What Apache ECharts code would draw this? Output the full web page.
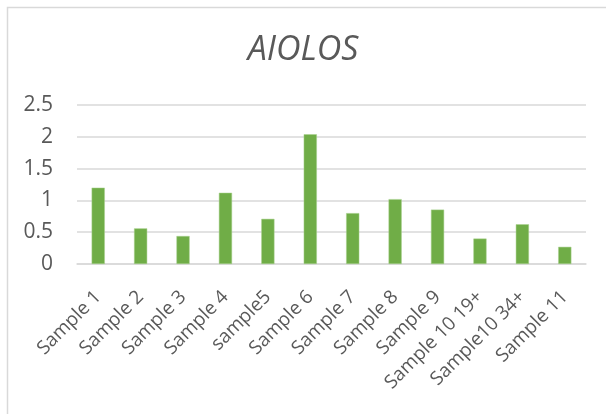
<!DOCTYPE html>
<html><head><meta charset="utf-8">
<script src="https://cdn.jsdelivr.net/npm/echarts@6/dist/echarts.min.js"></script>
<style>html,body{margin:0;padding:0;background:#fff}#c{width:606px;height:414px}</style>
</head><body><div id="c"></div>
<script>
const categories = ['Sample 1','Sample 2','Sample 3','Sample 4','sample5','Sample 6','Sample 7','Sample 8','Sample 9','Sample 10 19+','Sample10 34+','Sample 11'];
const values = [1.20, 0.56, 0.44, 1.12, 0.71, 2.04, 0.80, 1.02, 0.855, 0.40, 0.625, 0.27];
const yTicks = [0, 0.5, 1, 1.5, 2, 2.5];
const chart = echarts.init(document.getElementById('c'));
const font = '"Open Sans", "Noto Sans", sans-serif';
chart.setOption({
  animation: false,
  graphic: [{type:'rect', shape:{x:7.5,y:7.5,width:620,height:420}, style:{fill:'none', stroke:'#d9d9d9', lineWidth:1.5}}],
  title: {text:'AIOLOS', left:'center', top:28, textStyle:{fontFamily:font, fontStyle:'italic', fontWeight:'normal', fontSize:34, color:'#595959'}},
  grid: {left:77, right:20, top:105, bottom:150},
  xAxis: {type:'category', data:categories,
    axisLine:{lineStyle:{color:'#d9d9d9', width:1.5}}, axisTick:{show:false},
    axisLabel:{rotate:45, interval:0, fontFamily:font, fontSize:19, color:'#595959', margin:30, padding:[24,0,0,0]}},
  yAxis: {type:'value', min:yTicks[0], max:yTicks[yTicks.length-1], interval:0.5,
    axisLine:{show:false}, axisTick:{show:false},
    splitLine:{lineStyle:{color:'#d9d9d9', width:1.5}},
    axisLabel:{fontFamily:font, fontSize:21, color:'#595959', margin:24}},
  series: [{type:'bar', data:values, barWidth:'31%', itemStyle:{color:'#70ad47', borderColor:'#a9d18e', borderWidth:0.5}}]
});
</script></body></html>
